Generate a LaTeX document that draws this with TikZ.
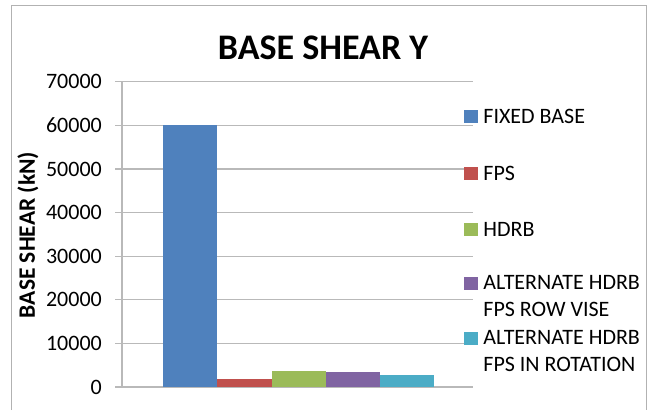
\documentclass[tikz,border=0pt]{standalone}
\usepackage{fontspec}
\setmainfont{Carlito}
\usetikzlibrary{positioning}

\definecolor{fixedblue}{RGB}{79,129,189}
\definecolor{fpsred}{RGB}{192,80,77}
\definecolor{hdrbgreen}{RGB}{155,187,89}
\definecolor{rowpurple}{RGB}{128,100,162}
\definecolor{rotcyan}{RGB}{75,172,198}

\begin{document}
\begin{tikzpicture}[%
		x=1pt,
		y=-1pt,
		gridline/.style={%
			draw=gray!55,
			line width=1.2pt
		},
		ticklabel/.style={%
			anchor=east,
			inner sep=0pt,
			font=\fontsize{22}{24}\selectfont
		},
		legendkey/.style={%
			minimum width=14pt,
			minimum height=13pt,
			inner sep=0pt
		},
		legendtext/.style={%
			align=left,
			inner sep=0pt,
			font=\fontsize{22}{26.5}\selectfont
		}
		]
		\useasboundingbox (0,0) rectangle (651,410);
		% frame of the chart
		\draw[gray!60, line width=1pt] (11,410) -- (11,5) -- (646,5) -- (646,410);

		% grid and value labels
		\foreach \v in {0,...,7} {
			\pgfmathsetmacro{\yy}{387-43.6*\v}
			\draw[gridline] (115,\yy) -- (473,\yy);
			\node[ticklabel] (t\v) at (102,\yy) {\ifnum\v=0 0\else\v0000\fi};
		}
		\draw[gridline] (122,81.8) -- (122,387);

		% bars (heights in thousands of kN)
		\foreach \xl/\xr/\val/\col in {163/217/60/fixedblue,217/272/1.77/fpsred,272/326/3.74/hdrbgreen,326/380/3.37/rowpurple,380/434/2.75/rotcyan} {
			\fill[\col] (\xl,387) rectangle (\xr,{387-4.36*\val});
		}

		\node[font=\fontsize{36}{40}\selectfont\bfseries] (title) at (323,48) {BASE SHEAR Y};
		\node[rotate=90, inner sep=0pt, font=\fontsize{23.5}{26}\selectfont\bfseries] (ylab) at (28,235) {BASE SHEAR (kN)};

		% legend
		\node[legendkey, fill=fixedblue] (k1) at (471,116) {};
		\node[legendkey, fill=fpsred]    (k2) at (471,173) {};
		\node[legendkey, fill=hdrbgreen] (k3) at (471,229) {};
		\node[legendkey, fill=rowpurple] (k4) at (471,283) {};
		\node[legendkey, fill=rotcyan]   (k5) at (471,338) {};
		\node[legendtext] (l1) [right=5pt of k1] {FIXED BASE};
		\node[legendtext] (l2) [right=5pt of k2] {FPS};
		\node[legendtext] (l3) [right=5pt of k3] {HDRB};
		\node[legendtext] (l4) [right=5pt of k4, yshift=-13pt] {ALTERNATE HDRB\\FPS ROW VISE};
		\node[legendtext] (l5) [right=5pt of k5, yshift=-13pt] {ALTERNATE HDRB\\FPS IN ROTATION};
		\end{tikzpicture}
\end{document}
